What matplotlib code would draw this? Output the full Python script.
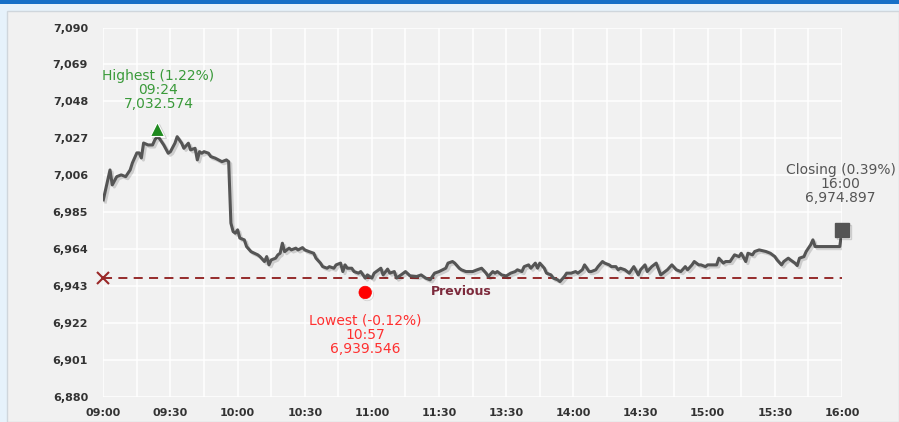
import matplotlib
matplotlib.use("Agg")
import matplotlib.pyplot as plt
import matplotlib.patheffects as pe
from matplotlib.patches import Rectangle

plt.rcParams['font.family'] = ['DejaVu Sans']

# ---- data -------------------------------------------------------------
# trading-time minutes after 09:00 (axis shows 11:30 -> 13:30 as one 30-min step)
minutes = [0, 3, 4, 6, 8, 10, 12, 13, 15, 16, 17, 18, 20, 22, 23, 24, 25, 27, 29, 30,
           32, 33, 35, 36, 38, 39, 41, 42, 43, 44, 45, 47, 48, 50, 53, 55, 56,
           57, 58, 59, 60, 61, 63, 64, 66, 69, 70, 72, 73, 74, 75, 77, 78, 79, 80,
           81, 83, 84, 86, 87, 89, 90, 92, 94, 95, 97, 98, 100, 101, 103, 104, 106,
           107, 108, 109, 111, 112, 114, 115, 117, 118, 120, 121, 123, 124, 125, 127,
           128, 130, 131, 133, 135, 137,
           140, 142, 144, 146, 148, 150, 153, 154, 156, 157, 159, 160, 162, 165, 167,
           169, 171, 172, 174, 175, 176, 178, 180, 182, 184, 185, 187, 188, 190, 191,
           193, 194, 195, 197, 198, 200, 201, 203, 204, 206, 207, 209, 211, 212, 214,
           215, 217, 218, 220, 221, 223, 224, 226, 227, 229, 230,
           231, 233, 235, 237, 239, 240, 242, 243, 245, 247, 249, 252, 254, 256, 258,
           260, 261, 263, 264, 266, 267, 269, 270, 272, 274, 275, 277, 278, 280, 282,
           284, 285, 287, 288, 290, 291, 293, 296, 298, 300, 301, 303, 304, 306, 307,
           309, 310, 311, 313, 314, 316, 317, 318, 329, 330]
values = [6992.1, 7009.1, 7000.6, 7005.3, 7006.3, 7005.3, 7009.1, 7013.1, 7018.8, 7018.8,
          7015.9, 7024.4, 7023.3, 7023.3, 7026.1, 7028.0, 7027.1, 7023.3, 7018.6, 7019.5,
          7024.3, 7028.0, 7024.3, 7021.4, 7024.3, 7020.5, 7021.4, 7014.8, 7019.5, 7018.6,
          7019.5, 7018.6, 7016.7, 7015.8, 7013.8, 7014.8, 7013.8,
          6978.9, 6974.1, 6973.2, 6975.1, 6970.4, 6969.4, 6965.6, 6962.7, 6960.9, 6959.9,
          6957.1, 6959.9, 6955.2, 6958.0, 6959.0, 6960.9, 6961.8, 6967.5,
          6962.7, 6964.7, 6963.7, 6964.7, 6963.7, 6965.0, 6963.7, 6962.7, 6961.8, 6959.0,
          6956.2, 6954.2, 6953.3, 6954.2, 6953.3, 6955.2, 6956.2,
          6951.4, 6955.2, 6953.3, 6953.3, 6951.4, 6950.5, 6951.4, 6947.7, 6949.5, 6947.7,
          6950.5, 6952.4, 6953.3, 6949.5, 6952.8,
          6950.5, 6951.4, 6947.7, 6949.5, 6951.4, 6949.0,
          6948.6, 6949.5, 6947.7, 6946.7, 6950.5, 6951.4, 6953.3, 6956.2, 6957.1, 6956.2,
          6953.3, 6952.4, 6951.4, 6951.4, 6952.4,
          6953.3, 6950.5, 6948.6, 6951.4, 6950.5, 6951.4, 6949.5, 6948.9, 6950.5, 6951.4,
          6952.4, 6951.4, 6954.2, 6955.2, 6953.3,
          6956.2, 6953.3, 6956.2, 6953.3, 6950.5, 6949.5, 6947.7, 6946.7, 6945.7, 6948.6,
          6950.5, 6950.5, 6951.4, 6950.5, 6952.4,
          6955.2, 6951.4, 6951.4, 6952.4, 6954.2, 6957.1, 6956.2, 6955.2, 6954.2, 6954.2,
          6952.4,
          6953.3, 6952.4, 6950.5, 6954.2, 6949.5, 6952.4, 6955.2, 6951.4, 6954.2, 6956.2,
          6949.5, 6952.4, 6955.2, 6952.4, 6951.4,
          6954.2, 6952.4, 6955.2, 6957.1, 6955.2, 6955.2, 6954.2, 6955.2, 6955.2, 6955.2,
          6959.0, 6956.2, 6957.1, 6957.1, 6960.9,
          6959.9, 6961.8, 6957.1, 6961.8, 6960.9, 6962.8, 6963.7, 6962.8, 6961.8, 6959.9,
          6958.0, 6955.2, 6957.1, 6959.0, 6958.0,
          6956.2, 6954.8, 6959.0, 6959.9, 6962.8, 6966.6, 6969.4, 6965.6, 6965.6, 6974.897]
assert len(minutes) == len(values)

previous_close = 6947.8
high_minute, high_value, high_time, high_pct = 24, 7032.574, "09:24", "1.22%"
low_minute, low_value, low_time, low_pct = 117, 6939.546, "10:57", "-0.12%"
close_minute, close_value, close_time, close_pct = 330, 6974.897, "16:00", "0.39%"

x_tick_labels = ["09:00", "09:30", "10:00", "10:30", "11:00", "11:30",
                 "13:30", "14:00", "14:30", "15:00", "15:30", "16:00"]
y_ticks = [6880, 6901, 6922, 6943, 6964, 6985, 7006, 7027, 7048, 7069, 7090]

# ---- figure -------------------------------------------------------------
W, H = 899, 422
fig = plt.figure(figsize=(W / 100, H / 100), dpi=100, facecolor='#e6f2fb')
# panel
fig.patches.append(Rectangle((7 / W, 0), 1 - 7 / W, 1 - 11 / H, transform=fig.transFigure,
                             facecolor='#f1f1f1', edgecolor='#cfd6dc', linewidth=1, zorder=-10))
# top blue strip
fig.patches.append(Rectangle((0, 1 - 4 / H), 1, 4 / H, transform=fig.transFigure,
                             facecolor='#1670c8', edgecolor='none', zorder=-9))

left, right, top, bottom = 103.3, 842.0, 27.5, 397.3
ax = fig.add_axes([left / W, 1 - bottom / H, (right - left) / W, (bottom - top) / H])
ax.set_zorder(5)
ax.set_facecolor('none')
for s in ax.spines.values():
    s.set_visible(False)

ax.set_xlim(0, 330)
ax.set_ylim(6880, 7090)

# grid
for gx in range(0, 331, 15):
    ax.axvline(gx, color='white', lw=1.1, zorder=1)
for gy in y_ticks:
    ax.axhline(gy, color='white', lw=1.1, zorder=1)

ax.set_xticks(list(range(0, 331, 30)))
ax.set_xticklabels(x_tick_labels)
ax.set_yticks(y_ticks)
ax.set_yticklabels([f"{v:,}" for v in y_ticks])
ax.tick_params(length=0, colors='#333333', labelsize=8)
ax.tick_params(axis='y', pad=11)
ax.tick_params(axis='x', pad=7.5)
for lab in ax.get_xticklabels() + ax.get_yticklabels():
    lab.set_fontweight('bold')

# previous close dashed line
ax.plot([0, 330], [previous_close, previous_close], color='#8e1c1c', lw=1.3,
        dashes=(5, 3.5), zorder=2)
ax.plot([0], [previous_close], marker='x', color='#9a2828', markersize=8, mew=1.5,
        zorder=3, clip_on=False)
ax.annotate("Previous", (160, previous_close), xytext=(0, -10), textcoords='offset points',
            ha='center', va='center', fontsize=9, fontweight='bold', color='#7d2a3c')

shadow = [pe.SimpleLineShadow(offset=(1.5, -1.5), shadow_color='black', alpha=0.15),
          pe.Normal()]

# main line
ax.plot(minutes, values, color='#555555', lw=2.2, solid_joinstyle='round',
        zorder=4, path_effects=shadow)

# markers
ax.plot([high_minute], [high_value], marker='^', color='#1f8a1f', markersize=10,
        mec='white', mew=0.8, zorder=5, path_effects=shadow)
ax.plot([low_minute], [low_value], marker='o', color='#ff0000', markersize=9,
        mec='#ff0000', mew=0.5, zorder=5, path_effects=shadow)
ax.plot([close_minute], [close_value], marker='s', color='#555555', markersize=10,
        zorder=5, path_effects=shadow, clip_on=False)

# annotations
ax.annotate(f"Highest ({high_pct})\n{high_time}\n{high_value:,.3f}", (high_minute, high_value),
            xytext=(1, 28), textcoords='offset points', ha='center', va='center',
            multialignment='center', fontsize=10, color='#3a9a3a', linespacing=1.0)
ax.annotate(f"Lowest ({low_pct})\n{low_time}\n{low_value:,.3f}", (low_minute, low_value),
            xytext=(0, -30.5), textcoords='offset points', ha='center', va='center',
            multialignment='center', fontsize=10, color='#ff3030', linespacing=1.0)
ax.annotate(f"Closing ({close_pct})\n{close_time}\n{close_value:,.3f}", (close_minute, close_value),
            xytext=(-1, 33), textcoords='offset points', ha='center', va='center',
            multialignment='center', fontsize=10, color='#555555', linespacing=1.0,
            annotation_clip=False)

fig.savefig("out.png", dpi=100, facecolor=fig.get_facecolor())
